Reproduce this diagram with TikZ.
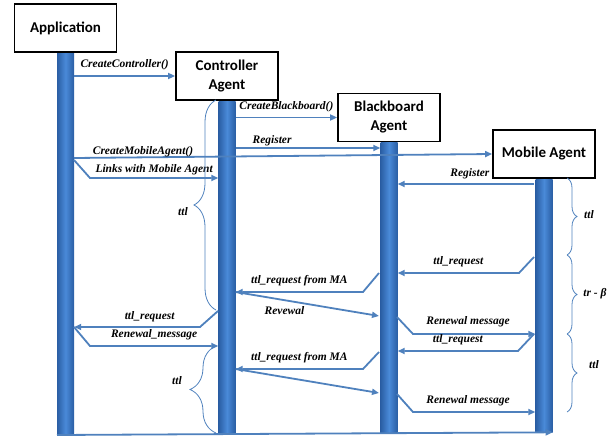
\documentclass[tikz,border=0pt]{standalone}
\usepackage{fontspec}
\setmainfont{Liberation Serif}
\newfontfamily\boxfont{Carlito}
\usetikzlibrary{arrows.meta,decorations.pathreplacing,backgrounds}
\definecolor{msgblue}{RGB}{79,129,189}
\definecolor{barL}{RGB}{74,138,216}
\definecolor{barD}{RGB}{42,94,164}
\begin{document}
\begin{tikzpicture}[x=1pt, y=-1pt,
  actor/.style={rectangle, draw=black, line width=1.8pt, fill=white, minimum width=102pt,
               minimum height=48pt, align=center, font=\boxfont\bfseries\fontsize{15}{19}\selectfont},
  life/.style={rectangle, shading=axis, left color=barD, right color=barD, middle color=barL,
               minimum width=17pt, inner sep=0pt, anchor=north},
  msg/.style={draw=msgblue, line width=1.8pt, -{Triangle[length=7pt,width=6pt]}},
  lbl/.style={font=\bfseries\itshape\fontsize{11.5}{13}\selectfont, inner sep=1pt,
              text height=8pt, text depth=2.5pt},
  brc/.style={draw=msgblue, line width=0.8pt, decorate}
]
\useasboundingbox (0,0) rectangle (613,436);

\node[actor] (app) at (65.5,28)   {Application};
\node[actor] (ctl) at (227,76)    {Controller\\Agent};
\node[actor] (bb)  at (389,117.5) {Blackboard\\Agent};
\node[actor] (ma)  at (544,154)   {Mobile Agent};

\begin{scope}[on background layer]
\node[life, minimum height=383pt] (appL) at (app.south) {};
\node[life, minimum height=333pt] (ctlL) at (ctl.south) {};
\node[life, minimum height=291pt] (bbL)  at (bb.south)  {};
\node[life, minimum height=253pt] (maL)  at (ma.south)  {};
\end{scope}

% creation of the agents
\draw[msg] (appL.east |- ctl.west) -- node[lbl, above=4pt] (t1) {CreateController()} (ctl.west);
\draw[msg] (ctlL.east |- bb.west) -- node[lbl, above=4pt] (t2) {CreateBlackboard()} (bb.west);
\coordinate (reg1) at (236,148);
\draw[msg] (reg1) -- node[lbl, above=0.5pt, pos=.25] (t3) {Register} (reg1 -| bbL.west);
\coordinate (cma) at (74,158);
\draw[msg] (cma) -- node[lbl, above=-2pt, pos=.165] (t4) {CreateMobileAgent()} (ma.west);
\coordinate (lnk) at (74,160);
\draw[msg] (lnk) -- ++(16,18) coordinate (lnk2) -- node[lbl, above=1pt] (t5) {Links with Mobile Agent} (lnk2 -| ctlL.west);
\coordinate (reg2) at (534,184);
\draw[msg] (reg2) -- node[lbl, above=3pt, pos=.47] (t6) {Register} (reg2 -| bbL.east);

% first renewal
\coordinate (q1) at (534,257);
\draw[msg] (q1) -- ++(-15,16) coordinate (q1b) -- node[lbl, above=4pt] (t7) {ttl\_request} (q1b -| bbL.east);
\coordinate (q2) at (379,273);
\draw[msg] (q2) -- ++(-16,19) coordinate (q2b) -- node[lbl, above=4pt] (t8) {ttl\_request from MA} (q2b -| ctlL.east);
\coordinate (rv1) at (379,316);
\draw[msg] (q2b -| ctlL.east) -- node[lbl, below=4pt, pos=.34] (t9) {Revewal} (rv1);
\coordinate (rn1) at (397,317);
\draw[msg] (rn1) -- ++(16,17) coordinate (rn1b) -- node[lbl, above=5pt, pos=.45] (t10) {Renewal message} (rn1b -| maL.west);

% second renewal
\coordinate (q3) at (534,334);
\draw[msg] (q3) -- ++(-16,17) coordinate (q3b) -- node[lbl, above=4pt] (t11) {ttl\_request} (q3b -| bbL.east);
\coordinate (q4) at (379,352);
\draw[msg] (q4) -- ++(-16,17) coordinate (q4b) -- node[lbl, above=4pt] (t12) {ttl\_request from MA} (q4b -| ctlL.east);
\coordinate (rv2) at (379,393);
\draw[msg] (q4b -| ctlL.east) -- (rv2);
\coordinate (rn2) at (397,394);
\draw[msg] (rn2) -- ++(16,18) coordinate (rn2b) -- node[lbl, above=4pt, pos=.45] (t13) {Renewal message} (rn2b -| maL.west);

% controller and application
\coordinate (q5) at (218,311);
\draw[msg] (q5) -- ++(-18,16) coordinate (q5b) -- node[lbl, above=3pt, pos=.4] (t14) {ttl\_request} (q5b -| appL.east);
\coordinate (rn3) at (74,327);
\draw[msg] (rn3) -- ++(16,19) coordinate (rn3b) -- node[lbl, above=4pt] (t15) {Renewal\_message} (rn3b -| ctlL.west);
\coordinate (fin) at (57,435);
\draw[msg] (fin) -- (maL.south east);

% time braces
\draw[brc, decoration={brace, amplitude=22pt}] (216,310) -- (216,100);
\draw[brc, decoration={brace, amplitude=26pt}] (216,433) -- (216,346);
\draw[brc, decoration={brace, amplitude=10pt}] (567,178) -- (567,255);
\draw[brc, decoration={brace, amplitude=10pt}] (567,255) -- (567,334);
\draw[brc, decoration={brace, amplitude=10pt}] (567,334) -- (567,412);
\node[lbl] (b1) at (183,213) {ttl};
\node[lbl] (b2) at (177,382) {ttl};
\node[lbl] (b3) at (589,216) {ttl};
\node[lbl] (b4) at (595,294) {tr - β};
\node[lbl] (b5) at (594,366) {ttl};
\end{tikzpicture}
\end{document}
